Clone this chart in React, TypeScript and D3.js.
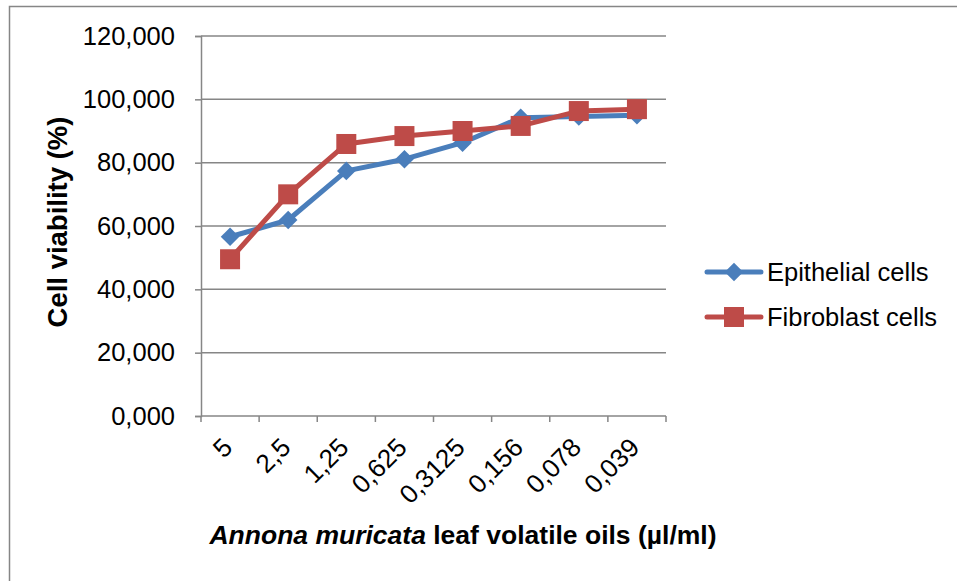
import React, { useEffect, useRef } from 'react';
import * as d3 from 'd3';

const concentrations = ["5", "2,5", "1,25", "0,625", "0,3125", "0,156", "0,078", "0,039"];
const epithelial = [56.6, 61.9, 77.4, 81.1, 86.3, 94.2, 94.6, 95.0];
const fibroblast = [49.5, 70.0, 85.9, 88.4, 90.0, 91.6, 96.3, 96.9];
const yTicks = [0, 20, 40, 60, 80, 100, 120];
const seriesNames = ["Epithelial cells", "Fibroblast cells"];

const BLUE = "#4a7ebb";
const RED = "#be4b48";
const GRID = "#868686";
const FONT = "Arial, 'Liberation Sans', sans-serif";

const App: React.FC = () => {
  const ref = useRef<SVGSVGElement | null>(null);

  useEffect(() => {
    if (ref.current) draw();
  }, []);

  const draw = () => {
    const svg = d3.select(ref.current);
    svg.selectAll("*").remove();

    const left = 201, right = 666, top = 36, bottom = 416;

    const x = d3.scaleBand().domain(concentrations).range([left, right]);
    const y = d3.scaleLinear().domain([0, 120]).range([bottom, top]);

    // outer frame (only left/top visible)
    svg.append("rect")
      .attr("x", 9.5).attr("y", 6.5)
      .attr("width", 1000).attr("height", 700)
      .attr("fill", "none").attr("stroke", GRID).attr("stroke-width", 1.5);

    // gridlines
    svg.append("g")
      .selectAll("line")
      .data(yTicks.filter(t => t > 0))
      .join("line")
      .attr("x1", left).attr("x2", right)
      .attr("y1", d => y(d)).attr("y2", d => y(d))
      .attr("stroke", GRID).attr("stroke-width", 1.5);

    // y axis
    const yAxis = svg.append("g").attr("transform", `translate(${left},0)`)
      .call(d3.axisLeft(y).tickValues(yTicks).tickSize(6).tickPadding(20)
        .tickFormat(d => d3.format(".3f")(d as number).replace(".", ",")));
    yAxis.select(".domain").attr("stroke", GRID).attr("stroke-width", 1.5);
    yAxis.selectAll(".tick line").attr("stroke", GRID).attr("stroke-width", 1.5);
    yAxis.selectAll("text")
      .attr("font-family", FONT).attr("font-size", 25.5).attr("fill", "#000");

    // x axis
    const xAxis = svg.append("g").attr("transform", `translate(0,${bottom})`);
    xAxis.append("line")
      .attr("x1", left).attr("x2", right).attr("y1", 0).attr("y2", 0)
      .attr("stroke", GRID).attr("stroke-width", 1.5);
    const edges = concentrations.map(c => x(c) as number).concat([right]);
    xAxis.selectAll("line.tk")
      .data(edges)
      .join("line")
      .attr("class", "tk")
      .attr("x1", d => d).attr("x2", d => d)
      .attr("y1", 0).attr("y2", 6)
      .attr("stroke", GRID).attr("stroke-width", 1.5);
    svg.append("g")
      .selectAll("text")
      .data(concentrations)
      .join("text")
      .attr("transform", d => `translate(${(x(d) as number) + x.bandwidth() / 2 + 4},${449}) rotate(-45)`)
      .attr("text-anchor", "end")
      .attr("font-family", FONT).attr("font-size", 26)
      .text(d => d);

    const cx = (d: string) => (x(d) as number) + x.bandwidth() / 2;
    const line = d3.line<number>()
      .x((_, i) => cx(concentrations[i]))
      .y(d => y(d));

    // epithelial
    svg.append("path").datum(epithelial)
      .attr("d", line).attr("fill", "none")
      .attr("stroke", BLUE).attr("stroke-width", 5).attr("stroke-linejoin", "round");
    const diamond = d3.symbol().type(d3.symbolDiamond2).size(220);
    svg.append("g").selectAll("path")
      .data(epithelial)
      .join("path")
      .attr("d", diamond as any)
      .attr("transform", (d, i) => `translate(${cx(concentrations[i])},${y(d)})`)
      .attr("fill", BLUE);

    // fibroblast
    svg.append("path").datum(fibroblast)
      .attr("d", line).attr("fill", "none")
      .attr("stroke", RED).attr("stroke-width", 5).attr("stroke-linejoin", "round");
    svg.append("g").selectAll("rect")
      .data(fibroblast)
      .join("rect")
      .attr("x", (d, i) => cx(concentrations[i]) - 10)
      .attr("y", d => y(d) - 10)
      .attr("width", 20).attr("height", 20)
      .attr("fill", RED);

    // legend
    const lg = svg.append("g")
      .selectAll("g")
      .data(seriesNames)
      .join("g")
      .attr("transform", (d, i) => `translate(707,${272 + i * 45})`);
    lg.append("line")
      .attr("x1", 0).attr("x2", 54)
      .attr("stroke", (d, i) => i === 0 ? BLUE : RED)
      .attr("stroke-width", 5).attr("stroke-linecap", "round");
    lg.filter((d, i) => i === 0).append("path")
      .attr("d", diamond as any)
      .attr("transform", "translate(27,0)")
      .attr("fill", BLUE);
    lg.filter((d, i) => i === 1).append("rect")
      .attr("x", 17).attr("y", -10).attr("width", 20).attr("height", 20)
      .attr("fill", RED);
    lg.append("text")
      .attr("x", 60).attr("dy", "0.35em")
      .attr("font-family", FONT).attr("font-size", 25.5)
      .text(d => d);

    // y title
    svg.append("text")
      .attr("transform", `translate(67,${(top + bottom) / 2 - 4}) rotate(-90)`)
      .attr("text-anchor", "middle")
      .attr("font-family", FONT).attr("font-size", 27.5).attr("font-weight", "bold")
      .text("Cell viability (%)");

    // x title
    const xt = svg.append("text")
      .attr("x", 463).attr("y", 544)
      .attr("text-anchor", "middle")
      .attr("font-family", FONT).attr("font-size", 26.5).attr("font-weight", "bold");
    xt.append("tspan").attr("font-style", "italic").text("Annona muricata");
    xt.append("tspan").text(" leaf volatile oils (µl/ml)");
  };

  return (
    <div style={{ position: "absolute", left: 0, top: 0 }}>
      <svg ref={ref} width={957} height={581} style={{ display: "block", background: "#fff" }}></svg>
    </div>
  );
};

export default App;
